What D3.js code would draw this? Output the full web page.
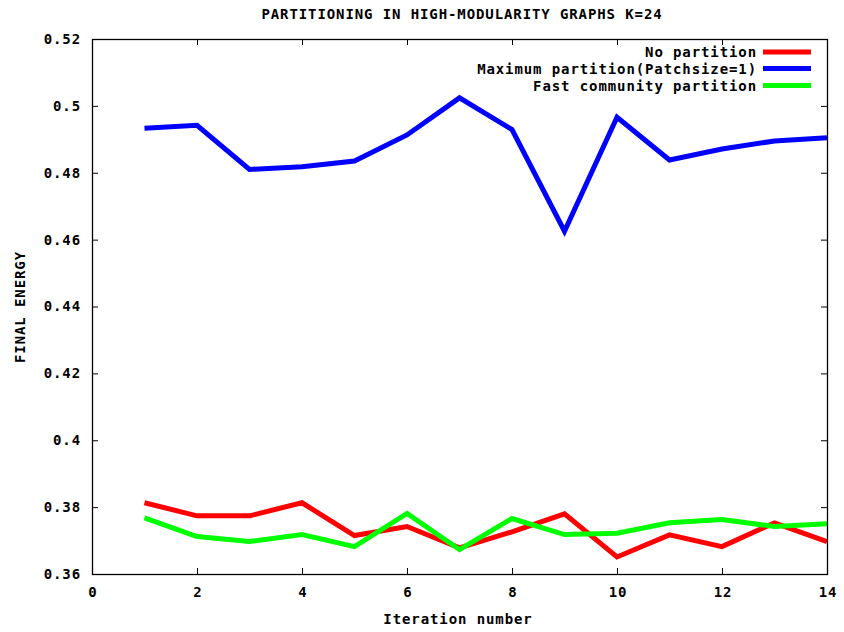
<!DOCTYPE html>
<html>
<head>
<meta charset="utf-8">
<script src="https://cdn.jsdelivr.net/npm/d3@7/dist/d3.min.js"></script>
<style>
  html, body { margin: 0; padding: 0; background: #fff; }
  text { font-family: "DejaVu Sans Mono", "Liberation Mono", monospace; font-weight: bold; font-size: 14px; letter-spacing: 0.9px; fill: #000; }
</style>
</head>
<body>
<svg id="chart" width="844" height="632"></svg>
<script>
// Iterations and final energy per partitioning strategy
const iterations = [1, 2, 3, 4, 5, 6, 7, 8, 9, 10, 11, 12, 13, 14];
const noPartition = [0.3813, 0.3774, 0.3774, 0.3813, 0.3715, 0.3742, 0.3678, 0.3726, 0.3780, 0.3651, 0.3717, 0.3682, 0.3753, 0.3697];
const maxPartition = [0.4933, 0.4942, 0.4810, 0.4818, 0.4835, 0.4913, 0.5024, 0.4929, 0.4625, 0.4966, 0.4838, 0.4871, 0.4895, 0.4905];
const fastCommunity = [0.3768, 0.3712, 0.3697, 0.3718, 0.3682, 0.3781, 0.3673, 0.3766, 0.3718, 0.3722, 0.3753, 0.3763, 0.3742, 0.3750];

const seriesNames = ["No partition", "Maximum partition(Patchsize=1)", "Fast community partition"];
const seriesColors = ["#ff0000", "#0000ff", "#00ff00"];
const seriesValues = [noPartition, maxPartition, fastCommunity];

const xTicks = [0, 2, 4, 6, 8, 10, 12, 14];
const yTicks = [0.36, 0.38, 0.40, 0.42, 0.44, 0.46, 0.48, 0.50, 0.52];
const yTickLabels = ["0.36", "0.38", "0.4", "0.42", "0.44", "0.46", "0.48", "0.5", "0.52"];

const title = "PARTITIONING IN HIGH-MODULARITY GRAPHS K=24";
const xTitle = "Iteration number";
const yTitle = "FINAL ENERGY";

const svg = d3.select("#chart");
const plotLeft = 92, plotRight = 827, plotTop = 39, plotBottom = 574;

const x = d3.scaleLinear().domain([0, 14]).range([plotLeft, plotRight]);
const y = d3.scaleLinear().domain([0.36, 0.52]).range([plotBottom, plotTop]);

// Series lines (drawn first so the frame sits on top)
const line = d3.line().x((d, i) => x(iterations[i])).y(d => y(d));
seriesValues.forEach((vals, k) => {
  svg.append("path")
    .datum(vals)
    .attr("d", line)
    .attr("fill", "none")
    .attr("stroke", seriesColors[k])
    .attr("stroke-width", 5)
    .attr("stroke-linejoin", "miter")
    .attr("stroke-linecap", "butt");
});

// Axes with inward ticks on all four sides
const tickLen = 6;
const axisBottom = d3.axisBottom(x).tickValues(xTicks).tickSizeInner(-tickLen).tickSizeOuter(0).tickPadding(13).tickFormat(d3.format("d"));
const axisTop = d3.axisTop(x).tickValues(xTicks).tickSizeInner(-tickLen).tickSizeOuter(0).tickFormat("");
const axisLeft = d3.axisLeft(y).tickValues(yTicks).tickSizeInner(-tickLen).tickSizeOuter(0).tickPadding(11).tickFormat((d, i) => yTickLabels[i]);
const axisRight = d3.axisRight(y).tickValues(yTicks).tickSizeInner(-tickLen).tickSizeOuter(0).tickFormat("");

function styleAxis(g) {
  g.select(".domain").remove();
  g.selectAll(".tick line").attr("stroke", "#000").attr("stroke-width", 1);
  g.selectAll(".tick text").attr("fill", "#000").style("font-size", "14px");
}

svg.append("g").attr("transform", `translate(0,${plotBottom})`).call(axisBottom).call(styleAxis)
  .selectAll(".tick text").attr("dx", "0.45px");
svg.append("g").attr("transform", `translate(0,${plotTop})`).call(axisTop).call(styleAxis);
svg.append("g").attr("transform", `translate(${plotLeft},0)`).call(axisLeft).call(styleAxis);
svg.append("g").attr("transform", `translate(${plotRight},0)`).call(axisRight).call(styleAxis);

// Plot frame
svg.append("rect")
  .attr("x", plotLeft + 0.5).attr("y", plotTop + 0.5)
  .attr("width", plotRight - plotLeft).attr("height", plotBottom - plotTop)
  .attr("fill", "none").attr("stroke", "#000").attr("stroke-width", 1.3);

// Titles
svg.append("text").attr("x", 462).attr("y", 19).attr("text-anchor", "middle").text(title);
svg.append("text").attr("x", 458).attr("y", 624).attr("text-anchor", "middle").text(xTitle);
svg.append("text")
  .attr("transform", "translate(25,307) rotate(-90)")
  .attr("text-anchor", "middle").text(yTitle);

// Legend
const legendY = [52, 68.5, 85.5];
seriesNames.forEach((name, k) => {
  svg.append("text")
    .attr("x", 757).attr("y", legendY[k] + 5)
    .attr("text-anchor", "end").text(name);
  svg.append("line")
    .attr("x1", 763).attr("x2", 811)
    .attr("y1", legendY[k]).attr("y2", legendY[k])
    .attr("stroke", seriesColors[k]).attr("stroke-width", 5);
});
</script>
</body>
</html>
